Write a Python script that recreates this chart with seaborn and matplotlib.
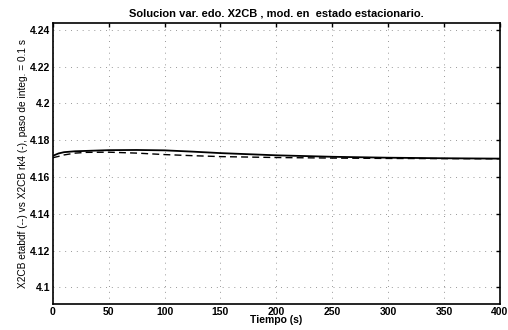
import seaborn as sns
import numpy as np
import pandas as pd
import matplotlib
matplotlib.use("Agg")
import matplotlib.pyplot as plt

# tiempo (s) and the two solutions
tiempo = [0, 5, 10, 20, 30, 50, 75, 100, 125, 150, 200, 250, 300, 350, 400]
x2cb_rk4 = [4.1715, 4.1728, 4.1735, 4.1740, 4.1742, 4.1746, 4.1747, 4.1745,
            4.1738, 4.1730, 4.1718, 4.1710, 4.1705, 4.1702, 4.1700]
x2cb_etabdf = [4.1705, 4.1712, 4.1720, 4.1730, 4.1734, 4.1735, 4.1730, 4.1722,
               4.1716, 4.1711, 4.1706, 4.1703, 4.1701, 4.1700, 4.1699]

xticks = [0, 50, 100, 150, 200, 250, 300, 350, 400]
yticks = [4.1, 4.12, 4.14, 4.16, 4.18, 4.2, 4.22, 4.24]

sns.set_style("white")
plt.rcParams['font.family'] = ['Liberation Sans', 'DejaVu Sans']
plt.rcParams['xtick.direction'] = 'in'
plt.rcParams['ytick.direction'] = 'in'
plt.rcParams['text.color'] = 'black'
plt.rcParams['axes.labelcolor'] = 'black'
plt.rcParams['xtick.color'] = 'black'
plt.rcParams['ytick.color'] = 'black'

df = pd.DataFrame({"t": tiempo, "rk4": x2cb_rk4, "etabdf": x2cb_etabdf})

fig = plt.figure(figsize=(5.08, 3.30), dpi=100)
ax = fig.add_axes([0.104, 0.079, 0.880, 0.850])

sns.lineplot(data=df, x="t", y="rk4", ax=ax, color="black", linewidth=1.3)
sns.lineplot(data=df, x="t", y="etabdf", ax=ax, color="black", linewidth=1.0,
             linestyle=(0, (5, 3)))

ax.set_xlim(0, 400)
ax.set_ylim(4.091, 4.2435)
ax.set_xticks(xticks)
ax.set_yticks(yticks)
ax.set_xticklabels([str(v) for v in xticks], fontsize=7.5, fontweight="bold")
ax.set_yticklabels(["%g" % v for v in yticks], fontsize=7.5, fontweight="bold")
ax.tick_params(length=3, width=1, pad=2, top=True, right=True)
ax.grid(True, linestyle=(0, (1, 5)), color="#999999", linewidth=0.7)
for s in ax.spines.values():
    s.set_linewidth(1.2)
    s.set_color("black")

ax.set_title("Solucion var. edo. X2CB , mod. en  estado estacionario.",
             fontsize=8, fontweight="bold", pad=5)
ax.set_xlabel("Tiempo (s)", fontsize=7.5, fontweight="bold", labelpad=-1)
ax.set_ylabel("X2CB etabdf (--) vs X2CB rk4 (-), paso de integ. = 0.1 s",
              fontsize=7.3, labelpad=1)

fig.savefig("out.png", dpi=100)
